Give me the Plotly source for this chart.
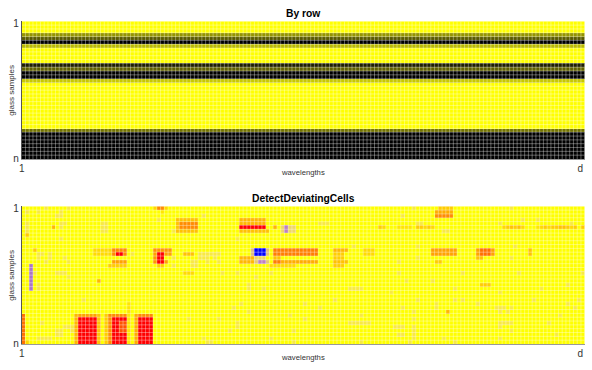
import plotly.graph_objects as go

N_ROWS = 36
N_COLS = 150

# Top panel: level per row (0 = yellow, 1 = black)
row_levels = [0, 0, 0, .42, .65, 1, .27, 0, 0, 0, 0, .88, .62, 1, 1, .22, 0, 0,
              0, 0, 0, 0, 0, 0, 0, 0, 0, 0, .55, 1, 1, 1, 1, 1, 1, 1]

# Bottom panel: (first row, last row, first col, last col, value)
hot_blocks = [
    (28, 35, 0, 0, .6), (35, 35, 1, 1, .15),
    (28, 35, 14, 20, .4), (29, 35, 15, 19, 1), (28, 35, 14, 14, .3), (28, 35, 20, 20, .25),
    (25, 35, 28, 28, .1),
    (28, 35, 22, 22, .2), (28, 35, 23, 27, .5), (29, 35, 24, 27, 1), (30, 32, 26, 27, .7),
    (28, 35, 30, 30, .35), (28, 35, 31, 34, .5), (29, 35, 31, 34, 1),
    (0, 0, 35, 38, .15), (0, 0, 36, 37, .5), (1, 1, 37, 37, .1),
    (3, 6, 41, 46, .25), (4, 5, 42, 46, .5),
    (11, 11, 20, 27, .25), (11, 12, 24, 27, .5), (12, 12, 25, 26, 1), (11, 12, 19, 23, .15),
    (14, 14, 24, 27, .4), (15, 15, 23, 27, .2),
    (11, 11, 35, 39, .45), (12, 12, 35, 39, .4), (12, 14, 36, 37, 1), (13, 14, 35, 35, .45),
    (14, 14, 38, 38, .4), (15, 15, 36, 37, .2),
    (3, 4, 58, 64, .3), (5, 5, 58, 64, 1), (6, 6, 58, 65, .25), (5, 5, 67, 67, .3),
    (13, 14, 58, 61, .3),
    (11, 12, 67, 78, .55), (13, 13, 67, 68, .25), (14, 14, 67, 78, .35), (14, 14, 67, 68, .55),
    (15, 15, 66, 72, .15),
    (11, 11, 83, 86, .3), (12, 15, 83, 85, .2), (14, 14, 83, 86, .25), (11, 12, 91, 93, .15),
    (0, 0, 111, 114, .2), (1, 2, 110, 114, .35), (2, 2, 110, 114, .5),
    (11, 12, 109, 115, .4), (11, 12, 121, 125, .4), (11, 12, 122, 124, .6), (13, 13, 121, 122, .25),
    (20, 20, 122, 124, .2), (14, 14, 110, 111, .2),
    (12, 12, 43, 45, .25), (17, 17, 43, 45, .15), (27, 27, 113, 113, .3), (19, 19, 20, 20, .3),
    (11, 12, 135, 135, .25), (11, 11, 3, 3, .2), (5, 5, 8, 8, .3), (7, 7, 1, 1, .2),
]

strip_cols = [128, 129, 130, 131, 132, 133, 137, 138, 139, 140, 141, 142, 143, 144, 145, 146, 147, 149,
              100, 101, 102, 103, 105, 106, 107, 108, 109, 95, 96]
strip_values = [.15, .2, .25, .2, .25, .15, .1, .15, .2, .15, .2, .2, .25, .25, .2, .15, .2, .2,
                .1, .1, .1, .1, .2, .2, .15, .2, .15, .2, .15]

# Negative (blue side) cells
cold_blocks = [
    (15, 21, 2, 2, -.55),
    (11, 12, 61, 65, -.3), (11, 12, 62, 64, -1), (12, 12, 63, 63, -1), (14, 14, 62, 65, -.25),
    (14, 14, 63, 64, -.5), (13, 13, 62, 64, -.2),
    (5, 6, 69, 72, -.2), (5, 6, 70, 70, -.5),
]

# Pale, tan cells as row -> columns
pale_cells = {
    0: [6, 12, 104, 130], 1: [1, 4, 10], 2: [9, 10, 48, 101], 3: [36, 133, 137],
    4: [1, 10, 11, 21, 22, 79, 80, 81, 105, 106, 127, 146],
    5: [1, 21, 22, 10], 6: [1, 21, 22, 40, 112, 113], 8: [10, 57], 10: [88, 131, 105],
    12: [4, 5, 7, 29, 47, 48, 49, 50, 51, 52], 13: [4, 7, 11, 40, 47, 48, 49, 51, 60, 105, 130],
    14: [6, 12, 49, 52, 45, 46, 100], 15: [45, 46, 40],
    17: [3, 9, 10, 11, 53, 57, 66, 117, 132, 149, 100], 18: [12, 62], 19: [102, 109], 20: [4, 60, 145],
    21: [4, 60, 64, 87, 88, 89, 90, 115, 138], 22: [98, 127], 24: [16, 83, 115, 117, 136, 148, 105],
    25: [58, 75, 110, 121, 145], 26: [79, 101, 126, 127, 128, 130, 147, 110, 56], 27: [104, 113, 127, 129, 60],
    28: [71, 90, 143], 29: [104, 44, 52, 75], 30: [5, 57, 87, 88, 89, 90, 91, 92, 127, 128, 129, 130, 140],
    31: [11, 12, 13, 57, 100, 101, 104, 127, 99], 32: [9, 10, 13, 104, 130, 55, 72],
    33: [9, 10, 104, 142, 100, 101], 34: [4, 5, 6, 7, 104, 127, 112, 66, 48],
    35: [49, 50, 90, 115, 103, 72],
}

top_colorscale = [[0, "rgb(255,255,0)"], [1, "rgb(0,0,0)"]]
bottom_colorscale = [
    [0, "rgb(0,0,255)"], [.25, "rgb(190,130,190)"], [.42, "rgb(245,225,90)"], [.5, "rgb(255,255,0)"],
    [.6, "rgb(255,205,0)"], [.75, "rgb(255,140,0)"], [1, "rgb(255,0,0)"],
]

top_z = [[lvl] * N_COLS for lvl in row_levels]

bottom_z = [[0.0] * N_COLS for _ in range(N_ROWS)]
for r, cols in pale_cells.items():
    for c in cols:
        bottom_z[r][c] = -.12
for c, v in zip(strip_cols, strip_values):
    bottom_z[5][c] = v
for r0, r1, c0, c1, v in hot_blocks + cold_blocks:
    for r in range(r0, r1 + 1):
        for c in range(c0, c1 + 1):
            bottom_z[r][c] = v

fig = go.Figure()

W, H = 592, 370
LEFT, RIGHT = 21.7, 584.7
panels = [(21.3, 159.0, top_z, top_colorscale, 0, 1, "", "By row"),
          (206.3, 344.0, bottom_z, bottom_colorscale, -1, 1, "2", "DetectDeviatingCells")]

grid_x, grid_y = [], []
for c in range(1, N_COLS):
    grid_x += [c - .5, c - .5, None]
    grid_y += [-.5, N_ROWS - .5, None]
for r in range(1, N_ROWS):
    grid_x += [-.5, N_COLS - .5, None]
    grid_y += [r - .5, r - .5, None]

annotations = []
for top, bottom, z, cs, zmin, zmax, suffix, title in panels:
    fig.add_trace(go.Heatmap(z=z, colorscale=cs, zmin=zmin, zmax=zmax, showscale=False,
                             xaxis="x" + suffix, yaxis="y" + suffix, hoverinfo="skip"))
    fig.add_trace(go.Scatter(x=grid_x, y=grid_y, mode="lines", xaxis="x" + suffix, yaxis="y" + suffix,
                             line=dict(color="rgba(255,255,255,0.5)", width=0.7),
                             hoverinfo="skip", showlegend=False))
    fig.update_layout(**{
        "xaxis" + suffix: dict(domain=[LEFT / W, RIGHT / W], range=[-.5, N_COLS - .5], automargin=False,
                               anchor="y" + suffix, showgrid=False, zeroline=False,
                               showline=True, linecolor="#999999", linewidth=1,
                               tickmode="array", tickvals=[-.5, 148.3], ticktext=["1", "d"],
                               ticks="", ticklen=0, tickangle=0,
                               tickfont=dict(family="Liberation Sans", size=10, color="#333333")),
        "yaxis" + suffix: dict(domain=[1 - bottom / H, 1 - top / H], range=[N_ROWS - .5, -.5], automargin=False,
                               anchor="x" + suffix, showgrid=False, zeroline=False,
                               showline=True, linecolor="#555555", linewidth=1,
                               tickmode="array", tickvals=[0, 35.3], ticktext=["1", "n"],
                               ticks="", ticklen=0, tickangle=0,
                               tickfont=dict(family="Liberation Sans", size=10, color="#333333")),
    })
    annotations.append(dict(text="<b>%s</b>" % title, xref="paper", yref="paper", showarrow=False,
                            x=303 / W, y=1 - (top - 7.8) / H, yanchor="middle", xanchor="center",
                            font=dict(family="Liberation Sans", size=10.3, color="#000000")))
    annotations.append(dict(text="wavelengths", xref="paper", yref="paper", showarrow=False,
                            x=303 / W, y=1 - (bottom + 13) / H, yanchor="middle", xanchor="center",
                            font=dict(family="Liberation Sans", size=7.7, color="#333333")))
    annotations.append(dict(text="glass samples", xref="paper", yref="paper", showarrow=False,
                            x=11.5 / W, y=1 - (top + bottom) / 2 / H, yanchor="middle", xanchor="center",
                            textangle=-90,
                            font=dict(family="Liberation Sans", size=8, color="#333333")))

fig.update_layout(width=W, height=H, autosize=False, margin=dict(l=0, r=0, t=0, b=0),
                  paper_bgcolor="white", plot_bgcolor="white", showlegend=False,
                  annotations=annotations)
fig.write_html("out.html", config=dict(displayModeBar=False),
               post_script="document.body.style.margin='0';document.body.style.overflow='hidden';")
